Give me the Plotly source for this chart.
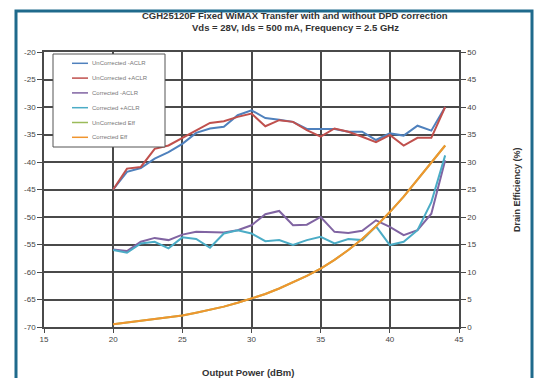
import plotly.graph_objects as go

# Output power sweep (dBm)
pout = list(range(20, 45))

# ACLR (dBc), left axis
uncorr_minus_aclr = [-45.0, -41.8, -41.1, -39.4, -38.2, -36.7, -34.7, -33.9, -33.6, -31.5,
                     -30.6, -32.0, -32.3, -32.7, -34.0, -34.0, -34.0, -34.5, -34.5, -36.0,
                     -34.8, -35.2, -33.4, -34.3, -30.0]
uncorr_plus_aclr = [-45.0, -41.2, -40.9, -37.6, -37.0, -35.6, -34.2, -32.9, -32.6, -31.8,
                    -31.2, -33.5, -32.4, -32.7, -34.2, -35.4, -33.9, -34.5, -35.4, -36.4,
                    -35.1, -37.0, -35.6, -35.6, -30.0]
corr_minus_aclr = [-55.9, -56.2, -54.5, -53.8, -54.2, -53.2, -52.7, -52.8, -52.8, -52.4,
                   -51.5, -49.5, -48.9, -51.5, -51.4, -50.0, -52.7, -52.9, -52.5, -50.6,
                   -51.8, -53.3, -52.4, -49.4, -39.7]
corr_plus_aclr = [-56.0, -56.5, -54.8, -54.5, -55.7, -53.7, -54.0, -55.6, -53.0, -52.4,
                  -53.0, -54.4, -54.2, -55.1, -54.2, -53.6, -54.8, -54.0, -54.2, -51.7,
                  -55.1, -54.5, -52.4, -47.3, -38.8]

# Drain efficiency (%), right axis
uncorr_eff = [0.5, 0.8, 1.1, 1.4, 1.8, 2.1, 2.6, 3.1, 3.7, 4.4,
              5.2, 6.0, 7.0, 8.1, 9.3, 10.6, 12.2, 14.0, 16.0, 18.3,
              20.9, 23.7, 26.8, 29.9, 33.0]
corr_eff = [0.5, 0.8, 1.1, 1.4, 1.8, 2.1, 2.6, 3.1, 3.7, 4.4,
            5.2, 6.0, 7.0, 8.1, 9.3, 10.6, 12.2, 14.0, 16.0, 18.3,
            20.9, 23.7, 26.8, 29.9, 33.0]

x_ticks = [15, 20, 25, 30, 35, 40, 45]
aclr_ticks = list(range(-70, -15, 5))
aclr_labels = [str(v) for v in aclr_ticks]
eff_ticks = list(range(0, 55, 5))

W, H = 541, 378
ML, MR, MT, MB = 44, 82, 52, 51
PW, PH = W - ML - MR, H - MT - MB


def px_x(px):
    return (px - ML) / PW


def px_y(py):
    return (H - MB - py) / PH


series = [
    ("UnCorrected -ACLR", uncorr_minus_aclr, "#4F81BD", "y"),
    ("UnCorrected +ACLR", uncorr_plus_aclr, "#C0504D", "y"),
    ("Corrected -ACLR", corr_minus_aclr, "#8064A2", "y"),
    ("Corrected +ACLR", corr_plus_aclr, "#4BACC6", "y"),
    ("UnCorrected Eff", uncorr_eff, "#9BBB59", "y2"),
    ("Corrected Eff", corr_eff, "#F0952E", "y2"),
]

fig = go.Figure()
for name, vals, color, ax in series:
    fig.add_trace(go.Scatter(
        x=pout, y=vals, name=name, mode="lines", yaxis=ax,
        line=dict(color=color, width=2), showlegend=False,
    ))

grid = "#4a4a4a"
tickfont = dict(family="Liberation Sans, Arial, sans-serif", size=8, color="#444")

fig.update_layout(
    width=W, height=H,
    margin=dict(l=ML, r=MR, t=MT, b=MB),
    paper_bgcolor="white", plot_bgcolor="white",
    showlegend=False,
    xaxis=dict(
        range=[15, 45], tickvals=x_ticks, ticks="outside", ticklen=4, tickcolor=grid,
        showgrid=True, gridcolor=grid, gridwidth=1.5,
        showline=True, linecolor=grid, linewidth=1.5, mirror=True,
        tickfont=tickfont, zeroline=False,
    ),
    yaxis=dict(
        range=[-70, -20], tickvals=aclr_ticks, ticktext=aclr_labels,
        ticks="outside", ticklen=5, tickcolor=grid,
        showgrid=True, gridcolor=grid, gridwidth=1.5,
        showline=True, linecolor=grid, linewidth=1.5,
        tickfont=tickfont, zeroline=False,
    ),
    yaxis2=dict(
        range=[0, 50], tickvals=eff_ticks, overlaying="y", side="right",
        ticks="outside", ticklen=5, tickcolor=grid,
        showgrid=False, showline=True, linecolor=grid, linewidth=1.5,
        tickfont=tickfont, zeroline=False,
    ),
)

# compact legend box in the upper-left corner of the plot
fig.add_shape(type="rect", xref="paper", yref="paper",
              x0=px_x(53), x1=px_x(165), y0=px_y(147), y1=px_y(54),
              line=dict(color="#555", width=1), fillcolor="white", layer="above")
legend_font = dict(family="Liberation Sans, Arial, sans-serif", size=6, color="#777")
for i, (name, _, color, _) in enumerate(series):
    yy = px_y(63.3 + 14.8 * i)
    fig.add_shape(type="line", xref="paper", yref="paper",
                  x0=px_x(72), x1=px_x(88), y0=yy, y1=yy,
                  line=dict(color=color, width=1.5), layer="above")
    fig.add_annotation(text=name, xref="paper", yref="paper", x=px_x(90), y=yy,
                       showarrow=False, font=legend_font,
                       xanchor="left", yanchor="middle")

bold = dict(family="Liberation Sans, Arial, sans-serif", size=9.5, color="#333")
fig.add_annotation(text="<b>CGH25120F Fixed WiMAX Transfer with and without DPD correction</b>",
                   xref="paper", yref="paper", x=px_x(295), y=px_y(15),
                   showarrow=False, font=bold, xanchor="center", yanchor="middle")
fig.add_annotation(text="<b>Vds = 28V, Ids = 500 mA, Frequency = 2.5 GHz</b>",
                   xref="paper", yref="paper", x=px_x(295), y=px_y(27),
                   showarrow=False, font=bold, xanchor="center", yanchor="middle")
fig.add_annotation(text="<b>Output Power (dBm)</b>",
                   xref="paper", yref="paper", x=px_x(248), y=px_y(372),
                   showarrow=False, font=bold, xanchor="center", yanchor="middle")
fig.add_annotation(text="<b>Drain Efficiency (%)</b>",
                   xref="paper", yref="paper", x=px_x(517), y=px_y(190),
                   showarrow=False, font=dict(bold, size=9), textangle=-90,
                   xanchor="center", yanchor="middle")

# blue frame around the chart
fig.add_shape(type="rect", xref="paper", yref="paper",
              x0=px_x(16), x1=px_x(532), y0=px_y(395), y1=px_y(11),
              line=dict(color="#1F6A8C", width=3), layer="below")

fig.write_html("out.html")
